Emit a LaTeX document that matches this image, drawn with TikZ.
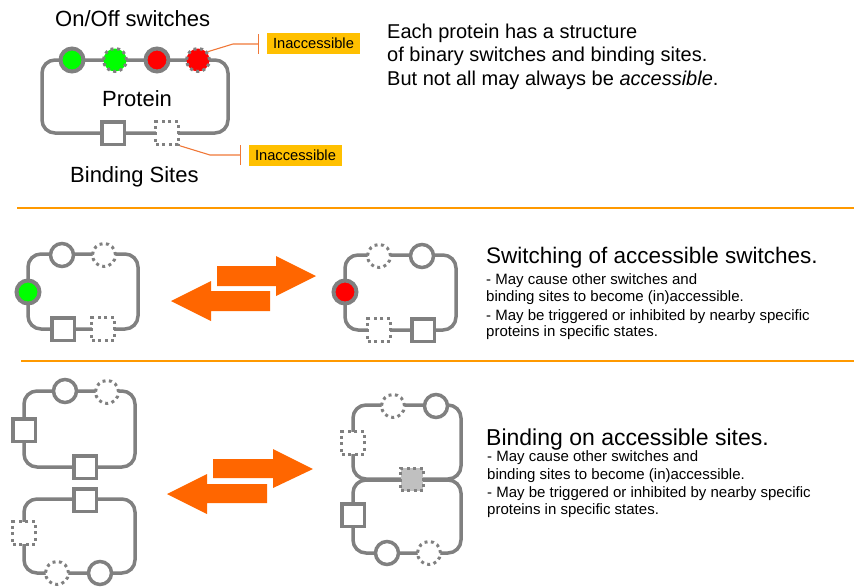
\documentclass[tikz,border=0pt]{standalone}
\usepackage{fontspec}
\setmainfont{Liberation Sans}
\usetikzlibrary{arrows.meta}
\definecolor{pgray}{HTML}{808080}
\definecolor{sepc}{HTML}{FF9900}
\definecolor{arrc}{HTML}{FF6600}
\definecolor{labc}{HTML}{FFC000}
\definecolor{callc}{HTML}{F07838}
\definecolor{onc}{HTML}{00FF00}
\definecolor{offc}{HTML}{FF0000}
\definecolor{boundc}{HTML}{C0C0C0}
\begin{document}
\begin{tikzpicture}[x=1pt,y=-1pt,
  prot/.style={draw=pgray, line width=3.5pt, rounded corners=13pt, inner sep=0pt},
  sw/.style={circle, draw=pgray, line width=3.5pt, fill=white, minimum size=23pt, inner sep=0pt},
  dsw/.style={sw, line width=3pt, dash pattern=on 3pt off 3.5pt},
  bs/.style={rectangle, draw=pgray, line width=3.5pt, fill=white, minimum size=22.5pt, inner sep=0pt},
  dbs/.style={bs, line width=3pt, dash pattern=on 3pt off 3.5pt},
  big/.style={anchor=base west, inner sep=0pt, font=\fontsize{22}{26}\selectfont},
  mid/.style={anchor=base west, inner sep=0pt, font=\fontsize{20}{23}\selectfont},
  small/.style={anchor=base west, inner sep=0pt, font=\fontsize{15}{17}\selectfont},
  labbox/.style={fill=labc, minimum width=93pt, minimum height=21pt, inner sep=0pt, font=\fontsize{14.7}{17}\selectfont},
  callout/.style={draw=callc, line width=1.1pt},
  sepline/.style={draw=sepc, line width=2.5pt},
  bigarrow/.style={fill=arrc}
]
\useasboundingbox (0,0) rectangle (854,587);

% ---------- Section 1 ----------
\node[prot, minimum width=186pt, minimum height=73pt] (p1) at (135,96.5) {};
\node[sw, fill=onc, line width=4pt] (s1a) at (72,60) {};
\node[dsw, fill=onc] (s1b) at (115,60) {};
\node[sw, fill=offc, line width=4pt] (s1c) at (157,60) {};
\node[dsw, fill=offc] (s1d) at (198,60) {};
\node[bs] (b1a) at (113,133) {};
\node[dbs] (b1b) at (167,133) {};
\node[big] (t1a) at (55,26) {On/Off switches};
\node[big] (t1b) at (102,106) {Protein};
\node[big] (t1c) at (70,182) {Binding Sites};
\node[labbox] (lab1) at (313.5,43.5) {Inaccessible};
\node[labbox] (lab2) at (295.5,155) {Inaccessible};
\coordinate (c1) at (259,44);
\coordinate (c2) at (241,155);
\draw[callout, -{Bar[width=20pt, line width=1.1pt]}] (s1d.40) -- (233,44) -- (c1);
\draw[callout, -{Bar[width=20pt, line width=1.1pt]}] (b1b.south east) -- (210,155) -- (c2);
\node[mid] (d1) at (387,38.3) {Each protein has a structure};
\node[mid] (d2) at (387,61.7) {of binary switches and binding sites.};
\node[mid] (d3) at (387,85) {But not all may always be \textit{accessible}.};

\draw[sepline] (17,208) -- (854,208);

% ---------- Section 2 ----------
\node[prot, minimum width=110pt, minimum height=75pt] (p2) at (83,291.5) {};
\node[sw] (s2a) at (62,255) {};
\node[dsw] (s2b) at (104,255) {};
\node[sw, fill=onc, line width=4pt] (s2c) at (28,292) {};
\node[bs] (b2a) at (63,329) {};
\node[dbs] (b2b) at (103,329) {};

\node[prot, minimum width=111pt, minimum height=75pt] (p3) at (400.5,292.5) {};
\node[dsw] (s3a) at (379,256) {};
\node[sw] (s3b) at (422,256) {};
\node[sw, fill=offc, line width=4pt] (s3c) at (345,292) {};
\node[dbs] (b3a) at (379,330) {};
\node[bs] (b3b) at (423,330) {};

\fill[bigarrow] (217,266) -- (276,266) -- (276,256) -- (316,276) -- (276,296) -- (276,286) -- (217,286) -- cycle;
\fill[bigarrow] (270,291) -- (211,291) -- (211,281) -- (171,301) -- (211,321) -- (211,311) -- (270,311) -- cycle;

\node[big, font=\fontsize{22.5}{26}\selectfont] (e1) at (486,263.3) {Switching of accessible switches.};
\node[small] (e2) at (486,284) {- May cause other switches and};
\node[small] (e3) at (486,301.7) {binding sites to become (in)accessible.};
\node[small] (e4) at (486,320) {- May be triggered or inhibited by nearby specific};
\node[small] (e5) at (486,336.7) {proteins in specific states.};

\draw[sepline] (21,361) -- (854,361);

% ---------- Section 3 ----------
\node[prot, minimum width=111pt, minimum height=76pt] (p4) at (79.5,429) {};
\node[sw] (s4a) at (65,391) {};
\node[dsw] (s4b) at (107,392) {};
\node[bs] (b4a) at (24,430) {};
\node[bs] (b4b) at (85,467) {};

\node[prot, minimum width=111pt, minimum height=74pt] (p5) at (79.5,536) {};
\node[bs] (b5a) at (85,500) {};
\node[dbs] (b5b) at (24,533) {};
\node[dsw] (s5a) at (57,573) {};
\node[sw] (s5b) at (100,573) {};

\node[prot, minimum width=108pt, minimum height=74pt] (p6) at (407,442) {};
\node[prot, minimum width=108pt, minimum height=73pt] (p7) at (407,516.5) {};
\node[dsw] (s6a) at (393,406) {};
\node[sw] (s6b) at (436,406) {};
\node[dbs] (b6a) at (353,443) {};
\node[dbs, fill=boundc] (b6b) at (412,479.5) {};
\node[bs] (b7a) at (353,515) {};
\node[sw] (s7a) at (387,553) {};
\node[dsw] (s7b) at (429,553) {};

\fill[bigarrow] (213,459) -- (273,459) -- (273,449) -- (313,469) -- (273,488) -- (273,478) -- (213,478) -- cycle;
\fill[bigarrow] (267,484) -- (207,484) -- (207,474) -- (167,494) -- (207,514) -- (207,503) -- (267,503) -- cycle;

\node[big, font=\fontsize{23}{26}\selectfont] (f1) at (486,445) {Binding on accessible sites.};
\node[small] (f2) at (487,461.7) {- May cause other switches and};
\node[small] (f3) at (487,479.3) {binding sites to become (in)accessible.};
\node[small] (f4) at (487,497.3) {- May be triggered or inhibited by nearby specific};
\node[small] (f5) at (487,514.3) {proteins in specific states.};
\end{tikzpicture}
\end{document}
